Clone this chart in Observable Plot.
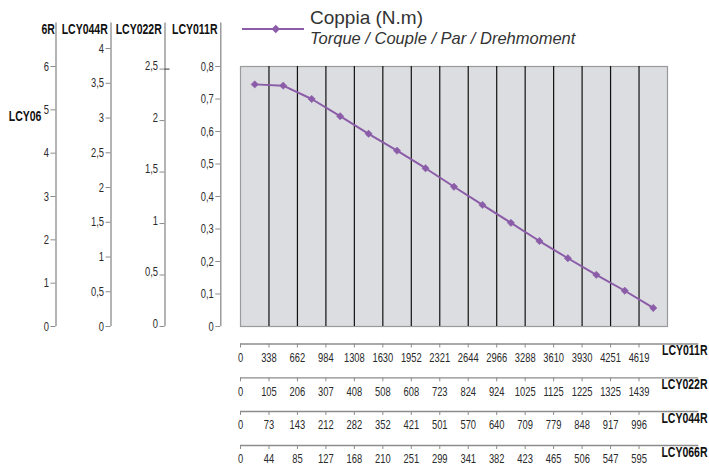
<!DOCTYPE html>
<html>
<head>
<meta charset="utf-8">
<script src="https://cdn.jsdelivr.net/npm/d3@7"></script>
<script src="https://cdn.jsdelivr.net/npm/@observablehq/plot@0.6"></script>
<style>
  body { margin: 0; background: #fff; }
  #wrap { position: relative; width: 709px; height: 468px; }
  #legend { position: absolute; left: 0; top: 0; font-family: "Liberation Sans", Arial, sans-serif; color: #333; }
  #legend .ln { position: absolute; left: 242px; top: 28px; width: 62px; height: 2px; }
  #legend .mk { position: absolute; left: 273px; top: 26px; width: 5.5px; height: 5.5px; transform: rotate(45deg); }
  #legend .txt { position: absolute; left: 310px; top: 8.4px; font-size: 16.5px; line-height: 20px; white-space: nowrap; }
  #legend .t1 { font-size: 19px; }
  #legend .t2 { font-size: 16.5px; font-style: italic; }
</style>
</head>
<body>
<div id="wrap"></div>
<script>
// ---- data ----
const torque = [0.745, 0.741, 0.700, 0.647, 0.593, 0.541, 0.487, 0.430, 0.374, 0.319, 0.263, 0.210, 0.159, 0.110, 0.057];
const speed011 = ["0","338","662","984","1308","1630","1952","2321","2644","2966","3288","3610","3930","4251","4619"];
const speed022 = ["0","105","206","307","408","508","608","723","824","924","1025","1125","1225","1325","1439"];
const speed044 = ["0","73","143","212","282","352","421","501","570","640","709","779","848","917","996"];
const speed066 = ["0","44","85","127","168","210","251","299","341","382","423","465","506","547","595"];
const ticks011 = [0, 0.1, 0.2, 0.3, 0.4, 0.5, 0.6, 0.7, 0.8];
const ticks022 = [0, 0.5, 1, 1.5, 2, 2.5];
const ticks044 = [0, 0.5, 1, 1.5, 2, 2.5, 3, 3.5, 4];
const ticks066 = [0, 1, 2, 3, 4, 5, 6];
const seriesName = "Coppia (N.m)";
const seriesSub = "Torque / Couple / Par / Drehmoment";

// ---- style ----
const purple = "#8b5ca8";
const axisGray = "#8c8c8c";
const labelColor = "#2a2a2a";
const font = '"Liberation Sans", Arial, sans-serif';
const condense = 0.75;   // horizontal squeeze to imitate a condensed face
const tickFont = 12.5;
const boldFont = 14;

const points = torque.map((v, i) => ({x: i + 0.5, y: v}));
const columns = speed011.map((_, i) => i).filter(i => i > 0);
const tickIdx = speed011.map((_, i) => i);
const fmt = v => String(v).replace(".", ",");

// left (value) axes: scale factor relative to the LCY011R torque scale, horizontal offset from the frame
const leftAxes = [
  {name: "LCY011R", ticks: ticks011, k: 1,       dx: -19.7,  textDy: 0},
  {name: "LCY022R", ticks: ticks022, k: 0.3168,  dx: -75.5,  textDy: -3},
  {name: "LCY044R", ticks: ticks044, k: 0.2138,  dx: -129.5, textDy: 0},
  {name: "LCY066R", ticks: ticks066, k: 0.13333, dx: -184.5, textDy: 0}
];
const axisTop = 0.934;   // where the vertical axis lines stop (in torque units)
const axisEnd = 16.1;    // where the horizontal speed-axis lines stop (in column units)

const bottomAxes = [
  {name: "LCY011R", labels: speed011, dy: 17.5},
  {name: "LCY022R", labels: speed022, dy: 51.3},
  {name: "LCY044R", labels: speed044, dy: 85},
  {name: "LCY066R", labels: speed066, dy: 119}
];

const marks = [
  Plot.frame({fill: "#dcdde0", stroke: "#9a9a9a", strokeWidth: 1.2}),
  Plot.ruleX(columns, {stroke: "#111", strokeWidth: 1.2})
];

for (const a of leftAxes) {
  const vals = a.ticks.map(v => v * a.k);
  const back = d => fmt(Math.round(d / a.k * 10) / 10);
  marks.push(Plot.ruleX([0], {dx: a.dx, y1: 0, y2: axisTop, stroke: axisGray, strokeWidth: 1.3}));
  marks.push(Plot.axisY(vals, {anchor: "left", dx: a.dx, tickSize: 5, tickPadding: 2, fill: "none", stroke: axisGray, label: null}));
  marks.push(Plot.axisY(vals, {anchor: "left", dx: a.dx, dy: a.textDy, tickSize: 5, tickPadding: 2, stroke: "none", fill: labelColor, tickFormat: back, fontSize: tickFont, label: null}));
  if (a.name !== "LCY066R") {
    marks.push(Plot.text([a.name], {text: d => d, frameAnchor: "top-left", dx: a.dx - 3.3, dy: -37.3, textAnchor: "end", lineAnchor: "middle", fontWeight: "bold", fontSize: boldFont, fill: "#111"}));
  }
}
// small dash at 2,5 on LCY022R axis
marks.push(Plot.axisY([2.5 * 0.3168], {anchor: "left", dx: -75.5, tickSize: -5, fill: "none", stroke: "#333", label: null}));
// LCY066R label split as in the original
marks.push(Plot.text(["6R"], {text: d => d, frameAnchor: "top-left", dx: -184.5 - 1.2, dy: -37.3, textAnchor: "end", lineAnchor: "middle", fontWeight: "bold", fontSize: boldFont, fill: "#111"}));
marks.push(Plot.text(["LCY06"], {text: d => d, frameAnchor: "top-left", dx: -231.7, dy: 50, textAnchor: "start", lineAnchor: "middle", fontWeight: "bold", fontSize: boldFont, fill: "#111"}));

for (const b of bottomAxes) {
  marks.push(Plot.ruleY([0], {x1: 0, x2: axisEnd, dy: b.dy, stroke: axisGray, strokeWidth: 1.3}));
  marks.push(Plot.axisX(tickIdx, {anchor: "bottom", dy: b.dy, tickSize: 4, tickPadding: 5, stroke: axisGray, fill: labelColor, tickFormat: i => b.labels[i], fontSize: tickFont, label: null}));
  marks.push(Plot.text([b.name], {text: d => d, frameAnchor: "bottom-right", dx: 40, dy: b.dy + 7, textAnchor: "end", lineAnchor: "middle", fontWeight: "bold", fontSize: boldFont, fill: "#111"}));
}

marks.push(Plot.line(points, {x: "x", y: "y", stroke: purple, strokeWidth: 2}));
marks.push(Plot.dot(points, {x: "x", y: "y", symbol: "diamond2", r: 3.3, fill: purple, stroke: purple, strokeWidth: 0.5}));

const chart = Plot.plot({
  width: 709,
  height: 468,
  marginLeft: 240,
  marginRight: 42,
  marginTop: 66,
  marginBottom: 142,
  x: {domain: [0, 15], axis: null},
  y: {domain: [0, 0.8], axis: null},
  style: {fontFamily: font, fontSize: "12px", background: "#fff", color: labelColor, overflow: "visible"},
  marks
});

// squeeze every text horizontally around its own anchor (condensed look)
chart.querySelectorAll("text").forEach(t => {
  const tr = t.getAttribute("transform");
  if (tr) {
    t.setAttribute("transform", tr + ` scale(${condense},1)`);
  } else {
    const x = +(t.getAttribute("x") || 0), y = +(t.getAttribute("y") || 0);
    t.removeAttribute("x"); t.removeAttribute("y");
    t.setAttribute("transform", `translate(${x},${y}) scale(${condense},1)`);
  }
});

const wrap = document.getElementById("wrap");
wrap.appendChild(chart);
const legend = document.createElement("div");
legend.id = "legend";
legend.innerHTML = `<div class="ln" style="background:${purple}"></div><div class="mk" style="background:${purple}"></div>` +
  `<div class="txt"><span class="t1"></span><br><span class="t2"></span></div>`;
legend.querySelector(".t1").textContent = seriesName;
legend.querySelector(".t2").textContent = seriesSub;
wrap.appendChild(legend);
</script>
</body>
</html>
